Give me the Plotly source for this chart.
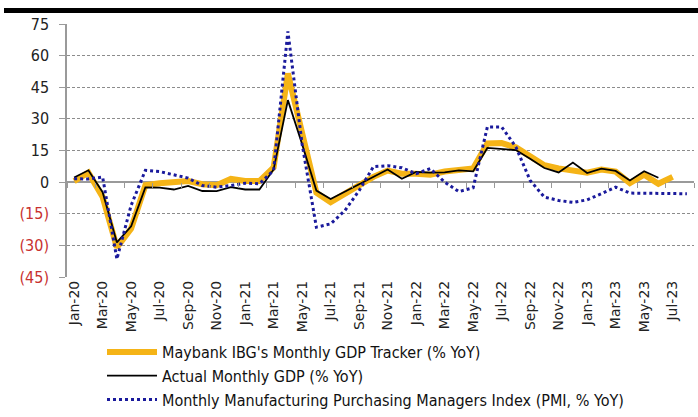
import plotly.graph_objects as go

months = ["Jan", "Feb", "Mar", "Apr", "May", "Jun", "Jul", "Aug", "Sep", "Oct", "Nov", "Dec"]
categories = [f"{m}-{y}" for y in ["20", "21", "22", "23"] for m in months][:44]  # Jan-20 .. Aug-23

tracker = [0.5, 4.5, -7, -31, -22, -1.5, -0.5, 0, 0.5, -1, -1.5, 1.5,
           0.5, 0.5, 7, 51.5, 22, -5, -9.5, -5.5, -1.5, 2.5, 5.5, 4,
           4, 3.5, 5, 6, 6.5, 18.3, 18.5, 16.5, 12, 8, 6.5, 5.5,
           4.5, 6, 5, -0.5, 3.5, -0.8, 2.5]

actual = [2.2, 5.6, -4.8, -28.6, -21, -2.5, -2.6, -3.5, -1.8, -4.2, -4.3, -2.4,
          -3.5, -3.5, 6, 38.9, 18, -4, -8, -4.5, -1.3, 2.4, 6, 1.6,
          4.8, 4.5, 4.6, 5.6, 5.1, 16.2, 15.7, 15.2, 11.1, 6.7, 4.6, 9.3,
          4.3, 6.4, 5.3, 0.8, 5.2, 2.1]

pmi = [1.6, 1.5, 2.4, -36.5, -11, 5.6, 5, 3.5, 1.9, -1.6, -2.4, -1.6,
       -0.5, -0.8, 5.6, 71.5, 18, -21.4, -19.8, -13.5, -4, 7.3, 7.8, 6.8,
       4, 6.4, 0, -4.5, -2.7, 26.2, 26.2, 16.7, 0.8, -7.1, -8.7, -9.6,
       -8.4, -5.5, -2.4, -5.2, -5.2, -5.5, -5.5, -5.5]

y_ticks = [75, 60, 45, 30, 15, 0, -15, -30, -45]
y_ticktext = ["75", "60", "45", "30", "15", "0",
              '<span style="color:#c8312f">(15)</span>',
              '<span style="color:#c8312f">(30)</span>',
              '<span style="color:#c8312f">(45)</span>']
x_ticklabels = categories[::2]

names = ["Maybank IBG's Monthly GDP Tracker (% YoY)",
         "Actual Monthly GDP (% YoY)",
         "Monthly Manufacturing Purchasing Managers Index (PMI, % YoY)"]

fig = go.Figure()
fig.add_trace(go.Scatter(x=categories[:len(tracker)], y=tracker, mode="lines", name=names[0],
                         line=dict(color="#F5B417", width=6)))
fig.add_trace(go.Scatter(x=categories[:len(actual)], y=actual, mode="lines", name=names[1],
                         line=dict(color="#000000", width=1.8)))
fig.add_trace(go.Scatter(x=categories, y=pmi, mode="lines", name=names[2],
                         line=dict(color="#1a1a9c", width=3, dash="dot")))

n = len(categories)
W, H = 698, 417
fig.update_layout(
    width=W, height=H,
    margin=dict(l=67, r=4, t=24, b=140, autoexpand=False),
    paper_bgcolor="white", plot_bgcolor="white",
    font=dict(family="Liberation Sans Narrow, DejaVu Sans Condensed, Arial Narrow, sans-serif", color="#111"),
    xaxis=dict(type="category", categoryorder="array", categoryarray=categories,
               range=[-0.5, n - 0.5], tickmode="array", tickvals=x_ticklabels, ticktext=x_ticklabels,
               tickangle=-90, showgrid=False, zeroline=False, showline=False, ticks="",
               automargin=False,
               tickfont=dict(family="DejaVu Sans", size=14, color="#222")),
    xaxis2=dict(overlaying="x", anchor="free", position=45 / 120, range=[-0.5, n - 0.5],
                tickmode="array", tickvals=[i - 0.5 for i in range(0, n + 1, 2)],
                ticks="outside", ticklen=5, tickcolor="#999", showticklabels=False,
                showgrid=False, zeroline=False, showline=False, automargin=False),
    yaxis=dict(range=[-45, 75], tickmode="array", tickvals=y_ticks, ticktext=y_ticktext,
               showgrid=True, gridcolor="#8c8c8c", gridwidth=1, griddash="3px,2px",
               zeroline=True, zerolinecolor="#9a9a9a", zerolinewidth=1.5,
               showline=True, linecolor="#9a9a9a", linewidth=1.5,
               ticks="outside", ticklen=6, tickcolor="#9a9a9a",
               ticklabelstandoff=7, automargin=False,
               tickfont=dict(size=16, color="#222")),
    legend=dict(xref="container", yref="container", x=102 / W, y=1 - 335 / H,
                xanchor="left", yanchor="top",
                font=dict(size=16, color="#111"), itemwidth=50, bgcolor="rgba(0,0,0,0)",
                tracegroupgap=0),
    showlegend=True,
)
# empty trace to register xaxis2 (tick marks on the zero line)
fig.add_trace(go.Scatter(x=[None], y=[None], xaxis="x2", showlegend=False, hoverinfo="skip"))

plot_h = H - 24 - 140
fig.add_shape(type="rect", xref="paper", yref="paper",
              x0=-63 / 627, x1=1.01, y0=(plot_h + 24 - 13) / plot_h, y1=(plot_h + 24 - 8) / plot_h,
              fillcolor="black", line=dict(width=0), layer="above")

fig.write_html("out.html", config={"displayModeBar": False},
               post_script="document.body.style.margin='0';")
